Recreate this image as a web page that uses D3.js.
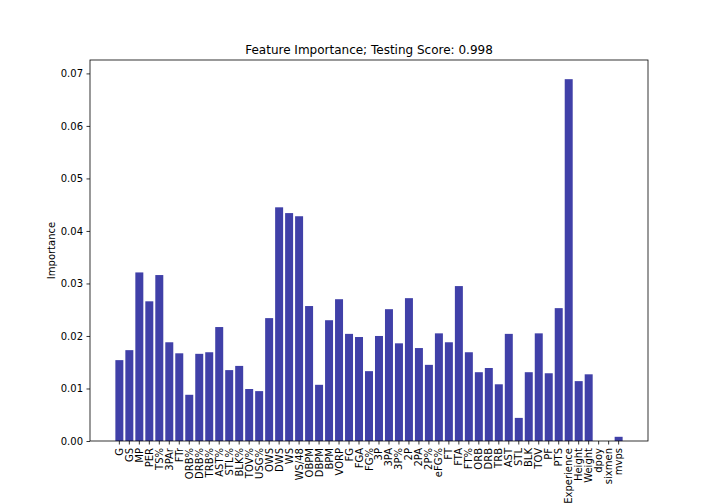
<!DOCTYPE html>
<html>
<head>
<meta charset="utf-8">
<script src="https://cdn.jsdelivr.net/npm/d3@7"></script>
<style>
  body { margin: 0; background: #fff; }
  svg { display: block; }
  text { font-family: "DejaVu Sans", sans-serif; fill: #000; }
</style>
</head>
<body>
<svg width="720" height="504"></svg>
<script>
// feature names, in the order they were plotted
let features = ["G", "GS", "MP", "PER", "TS%", "3PAr", "FTr", "ORB%", "DRB%", "TRB%",
  "AST%", "STL%", "BLK%", "TOV%", "USG%", "OWS", "DWS", "WS", "WS/48", "OBPM",
  "DBPM", "BPM", "VORP", "FG", "FGA", "FG%", "3P", "3PA", "3P%", "2P",
  "2PA", "2P%", "eFG%", "FT", "FTA", "FT%", "ORB", "DRB", "TRB", "AST",
  "STL", "BLK", "TOV", "PF", "PTS", "Experience", "Height", "Weight", "dpoy", "sixmen", "mvps"];

// importances
let importance = [0.0154, 0.0173, 0.0321, 0.0266, 0.0316, 0.0188, 0.0167, 0.0088, 0.0166, 0.0169,
  0.0217, 0.0135, 0.0143, 0.0099, 0.0095, 0.0234, 0.0445, 0.0434, 0.0428, 0.0257,
  0.0107, 0.0230, 0.0270, 0.0204, 0.0198, 0.0133, 0.0200, 0.0251, 0.0186, 0.0272,
  0.0177, 0.0145, 0.0205, 0.0188, 0.0295, 0.0169, 0.0131, 0.0139, 0.0108, 0.0204,
  0.0044, 0.0131, 0.0205, 0.0129, 0.0253, 0.0689, 0.0114, 0.0127, 0, 0, 0.0008];

let yTicks = [0, 0.01, 0.02, 0.03, 0.04, 0.05, 0.06, 0.07];

let svg = d3.select('svg');
// plot box (window.top is taken, so prefix these)
let axLeft = 90, axRight = 648, axTop = 60, axBottom = 441;

let x = d3.scaleBand()
  .domain(features)
  .range([axLeft, axRight])
  .paddingInner(0.2)
  .paddingOuter(2.54);

let y = d3.scaleLinear()
  .domain([0, d3.max(importance) * 1.053])
  .range([axBottom, axTop]);

// bars
svg.selectAll('rect.bar')
  .data(features)
  .enter()
  .append('rect')
  .attr('class', 'bar')
  .attr('x', d => x(d))
  .attr('width', x.bandwidth())
  .attr('y', (d, i) => y(importance[i]))
  .attr('height', (d, i) => axBottom - y(importance[i]))
  .attr('fill', '#4040a8');

// x axis (labels rotated like matplotlib rotation=90)
let xAxis = svg.append('g')
  .attr('transform', `translate(0,${axBottom})`)
  .call(d3.axisBottom(x).tickSize(3.5).tickPadding(3.5).tickSizeOuter(0));
xAxis.select('.domain').remove();
xAxis.selectAll('.tick line').attr('stroke', '#000').attr('stroke-width', 0.8);
xAxis.selectAll('.tick text')
  .attr('font-size', 10)
  .attr('font-family', '"DejaVu Sans", sans-serif')
  .attr('text-anchor', 'end')
  .attr('transform', 'rotate(-90)')
  .attr('x', -7)
  .attr('y', 0)
  .attr('dy', '0.35em');

// y axis
let yAxis = svg.append('g')
  .attr('transform', `translate(${axLeft},0)`)
  .call(d3.axisLeft(y).tickValues(yTicks).tickFormat(d3.format('.2f')).tickSize(3.5).tickPadding(3.5));
yAxis.select('.domain').remove();
yAxis.selectAll('.tick line').attr('stroke', '#000').attr('stroke-width', 0.8);
yAxis.selectAll('.tick text')
  .attr('font-size', 10)
  .attr('font-family', '"DejaVu Sans", sans-serif');

// frame
svg.append('rect')
  .attr('x', axLeft)
  .attr('y', axTop)
  .attr('width', axRight - axLeft)
  .attr('height', axBottom - axTop)
  .attr('fill', 'none')
  .attr('stroke', '#000')
  .attr('stroke-width', 0.8);

svg.append('text')
  .attr('x', (axLeft + axRight) / 2)
  .attr('y', axTop - 6)
  .attr('text-anchor', 'middle')
  .attr('font-size', 12)
  .text('Feature Importance; Testing Score: 0.998');

svg.append('text')
  .attr('transform', `translate(55,${(axTop + axBottom) / 2}) rotate(-90)`)
  .attr('text-anchor', 'middle')
  .attr('font-size', 10)
  .text('Importance');
</script>
</body>
</html>
